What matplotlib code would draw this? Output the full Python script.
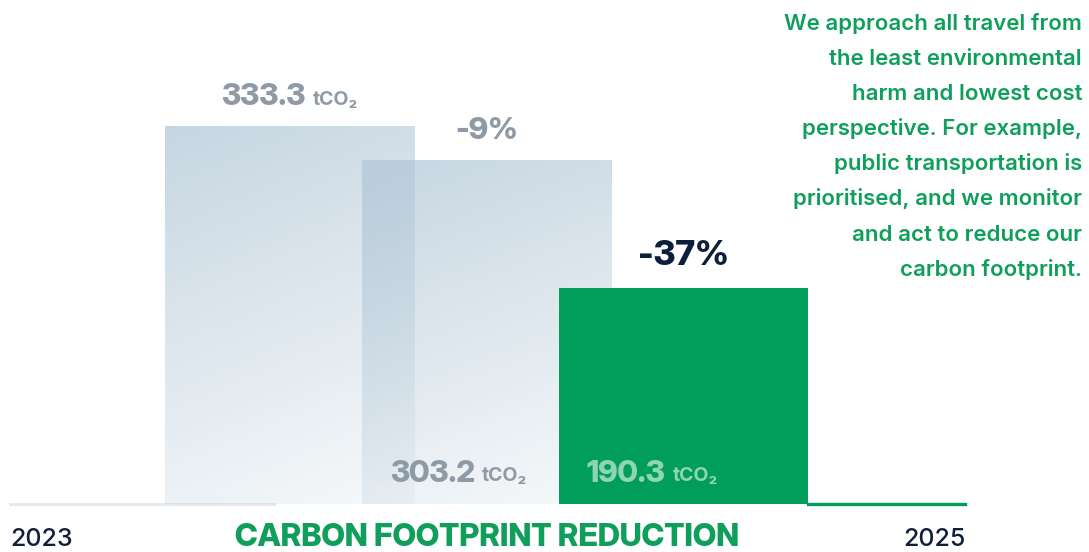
import matplotlib.pyplot as plt
import numpy as np

# travel emissions, tonnes CO2
years = ['2023', '2024', '2025']
values = [333.3, 303.2, 190.3]
edge_labels = ['2023', '2025']
title = 'CARBON FOOTPRINT REDUCTION'
blurb = [
    'We approach all travel from',
    'the least environmental',
    'harm and lowest cost',
    'perspective. For example,',
    'public transportation is',
    'prioritised, and we monitor',
    'and act to reduce our',
    'carbon footprint.',
]

GREEN = '#009e5a'
TEXT_GREEN = '#0f9f5b'
LIGHT_GREEN = '#8fd5b3'
GREY = '#8e9ba6'
NAVY = '#0e1f3b'
BAR_BLUE = np.array([176, 198, 214]) / 255

FONT = ['Inter', 'DejaVu Sans']
DISPLAY = ['Inter Display', 'Inter', 'DejaVu Sans']
plt.rcParams['font.family'] = FONT

fig = plt.figure(figsize=(10.89, 5.52), dpi=100)
ax = fig.add_axes([0, 0, 1, 1])
ax.axis('off')

x = np.arange(len(values))
width = 1.27
bars = ax.bar(x, values, width=width, color='none', zorder=2)


def gradient_fill(rect, a_top=0.72, a_bottom=0.1):
    # diagonal alpha ramp: darkest at top-left, fading toward bottom-right
    n = 200
    u, v = np.meshgrid(np.linspace(0, 1, n), np.linspace(0, 1, n))
    t = 0.78 * v + 0.22 * u
    img = np.zeros((n, n, 4))
    img[..., :3] = BAR_BLUE
    img[..., 3] = a_top + (a_bottom - a_top) * t
    x0, y0 = rect.get_x(), rect.get_y()
    ax.imshow(img, extent=(x0, x0 + rect.get_width(), y0, y0 + rect.get_height()),
              origin='upper', aspect='auto', interpolation='bilinear', zorder=2)


gradient_fill(bars[0])
gradient_fill(bars[1])
bars[2].set_facecolor(GREEN)
bars[2].set_zorder(3)

# baseline pieces
ax.axhline(0, xmin=10 / 1089, xmax=274 / 1089, color='#e3e8ed', lw=2, zorder=1)
ax.axhline(0, xmin=808 / 1089, xmax=965 / 1089, color=GREEN, lw=2.4, zorder=1)

ax.set_xlim(-290 / 196.75, (1089 - 290) / 196.75)
ax.set_ylim(-48.5 / 1.1341, 503.5 / 1.1341)


def value_label(xpos, ypos, value, dx, dy, color):
    num = ax.annotate(f'{value:.1f}', xy=(xpos, ypos), xytext=(dx, dy),
                      textcoords='offset pixels', ha='left', va='baseline',
                      fontsize=22, fontweight='heavy', family=DISPLAY,
                      color=color, zorder=5)
    unit = ax.annotate('tCO₂', xy=(1, ypos), xycoords=(num, 'data'), xytext=(7, dy),
                       textcoords='offset pixels', ha='left', va='baseline',
                       fontsize=14, fontweight='bold', color=color, zorder=5)
    return num, unit


# 2023 total sits centred above its bar
top_num, top_unit = value_label(x[0], values[0], values[0], 0, 21, GREY)
# later totals sit at the foot of each bar
value_label(x[1] - width / 2, 0, values[1], 28, 22, GREY)
value_label(x[2] - width / 2, 0, values[2], 28, 22, LIGHT_GREEN)

for i in range(1, len(values)):
    change = (values[i] / values[i - 1] - 1) * 100
    big = i == len(values) - 1
    ax.annotate(f'{change:.0f}%', xy=(x[i], values[i]), xytext=(0, 23 if big else 21),
                textcoords='offset pixels', ha='center', va='baseline',
                fontsize=25 if big else 22, fontweight='heavy', family=DISPLAY,
                color=NAVY if big else GREY, zorder=5)

# year markers and title along the bottom
fig.text(10 / 1089, 1 - 546 / 552, edge_labels[0], ha='left', va='baseline',
         fontsize=18, fontweight='medium', color=NAVY)
fig.text(966 / 1089, 1 - 546 / 552, edge_labels[1], ha='right', va='baseline',
         fontsize=18, fontweight='medium', color=NAVY)
ax.annotate(title, xy=(x[1], 0), xytext=(0, -(546 - 503.5)), textcoords='offset pixels',
            ha='center', va='baseline', fontsize=22.5, fontweight='heavy',
            family=DISPLAY, color=TEXT_GREEN)

for i, line in enumerate(blurb):
    fig.text(1082 / 1089, 1 - (30 + 35.1 * i) / 552, line, ha='right', va='baseline',
             fontsize=16, fontweight='semibold', color=TEXT_GREEN)

# centre the two-part label over the first bar
fig.canvas.draw()
r = fig.canvas.get_renderer()
w = top_num.get_window_extent(r).width + 7 + top_unit.get_window_extent(r).width
top_num.xyann = (-w / 2, 21)

fig.savefig('out.png', dpi=100)
